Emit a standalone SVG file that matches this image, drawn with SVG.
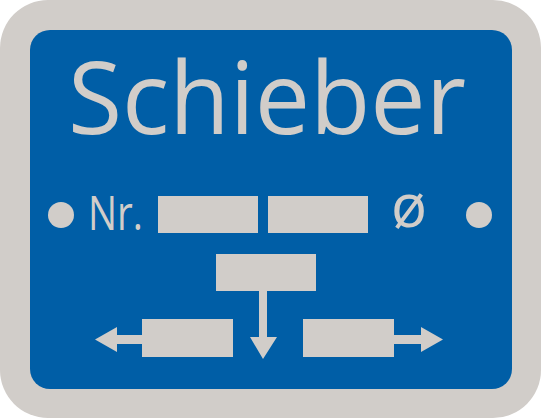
<svg xmlns="http://www.w3.org/2000/svg" width="542" height="420" viewBox="0 0 542 420">
<style>
.g{fill:#d1cdc9}
.t{font-family:"Open Sans","Noto Sans","Liberation Sans",sans-serif;fill:#d1cdc9}
</style>
<rect width="542" height="420" fill="#ffffff"/>
<g id="plate">
<rect x="0" y="0" width="541" height="418" rx="48" class="g"/>
<rect x="30" y="30" width="482" height="359" rx="20" fill="#005ea6"/>
</g>
<g id="title"><text class="t" x="68" y="134" font-size="101" textLength="398" lengthAdjust="spacingAndGlyphs">Schieber</text></g>
<g id="row1">
<circle cx="61" cy="215" r="13" class="g"/>
<text class="t" x="88" y="230" font-size="47" textLength="55" lengthAdjust="spacingAndGlyphs">Nr.</text>
<rect x="158" y="196" width="100" height="37" class="g"/>
<rect x="268" y="196" width="100" height="37" class="g"/>
<text class="t" x="391" y="227" font-size="60">ø</text>
<circle cx="479" cy="215" r="13" class="g"/>
</g>
<g id="top-box"><rect x="216" y="254" width="100" height="37" class="g"/></g>
<g id="left-box"><rect x="142" y="319" width="91" height="38" class="g"/></g>
<g id="right-box"><rect x="303" y="319" width="91" height="38" class="g"/></g>
<g id="connectors" class="g">
<polygon points="259,291 267,291 267,337 277,337 263,359 250,337 259,337"/>
<polygon points="142,335 117,335 117,327 95,339.5 117,352 117,344 142,344"/>
<polygon points="394,335 421,335 421,327 443,339.5 421,352 421,344 394,344"/>
</g>
</svg>
